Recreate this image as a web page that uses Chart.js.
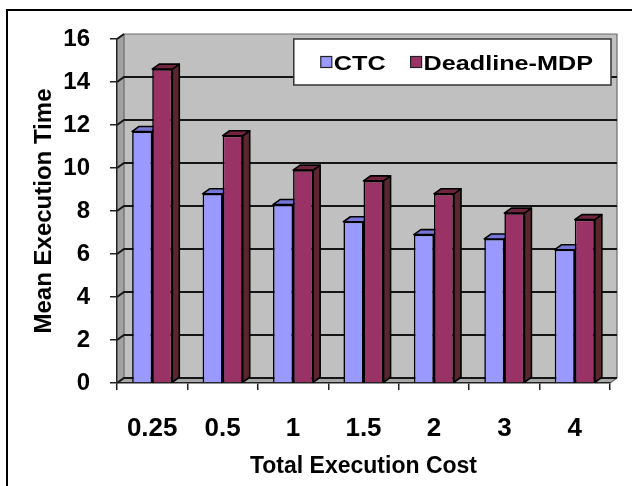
<!DOCTYPE html>
<html>
<head>
<meta charset="utf-8">
<script src="https://cdn.jsdelivr.net/npm/chart.js@4.4.1/dist/chart.umd.min.js"></script>
<style>
  html, body { margin: 0; padding: 0; background: #ffffff; }
  canvas { display: block; }
</style>
</head>
<body>
<canvas id="chart" width="632" height="486"></canvas>
<script>
// Total execution cost (x categories)
const categories = ['0.25', '0.5', '1', '1.5', '2', '3', '4'];
// Mean execution time per scheduler
const ctcTimes = [11.7, 8.8, 8.3, 7.5, 6.9, 6.7, 6.2];
const mdpTimes = [14.6, 11.5, 9.9, 9.4, 8.8, 7.9, 7.6];
// Value axis
const yMin = 0, yMax = 16, yStep = 2;

const FONT = "'Liberation Sans', Arial, sans-serif";
const DX = 7, DY = -5;           // depth offset of the 3D box
const faceColors = [
  { top: '#7676d6', side: '#5f5fb0' },
  { top: '#70243e', side: '#5a2630' }
];

// Back wall, side wall, floor and gridlines
const boxPlugin = {
  id: 'box3d',
  beforeDraw(chart) {
    const { ctx, chartArea: a, scales: { y } } = chart;
    const yTop = y.getPixelForValue(yMax);
    const yBot = y.getPixelForValue(yMin);
    ctx.save();
    ctx.fillStyle = '#ffffff';
    ctx.fillRect(0, 0, chart.width, chart.height);

    // outer frame
    ctx.strokeStyle = '#000';
    ctx.lineWidth = 2;
    ctx.beginPath();
    ctx.moveTo(7, chart.height + 2);
    ctx.lineTo(7, 10);
    ctx.lineTo(chart.width + 2, 10);
    ctx.stroke();

    // back wall
    ctx.fillStyle = '#c0c0c0';
    ctx.fillRect(a.left + DX, yTop + DY, a.right - a.left, yBot - yTop);
    // left side wall
    ctx.fillStyle = '#a2a2a2';
    ctx.beginPath();
    ctx.moveTo(a.left, yTop);
    ctx.lineTo(a.left + DX, yTop + DY);
    ctx.lineTo(a.left + DX, yBot + DY);
    ctx.lineTo(a.left, yBot);
    ctx.closePath();
    ctx.fill();
    // floor
    ctx.fillStyle = '#a8a8a8';
    ctx.beginPath();
    ctx.moveTo(a.left, yBot);
    ctx.lineTo(a.left + DX, yBot + DY);
    ctx.lineTo(a.right + DX, yBot + DY);
    ctx.lineTo(a.right, yBot);
    ctx.closePath();
    ctx.fill();

    // wall outline
    ctx.strokeStyle = '#6a6a6a';
    ctx.lineWidth = 1.2;
    ctx.beginPath();
    ctx.moveTo(a.left + DX, yBot + DY);
    ctx.lineTo(a.left + DX, yTop + DY);
    ctx.lineTo(a.right + DX, yTop + DY);
    ctx.lineTo(a.right + DX, yBot + DY);
    ctx.lineTo(a.right, yBot);
    ctx.stroke();

    // gridlines on the side wall and back wall
    ctx.strokeStyle = '#151515';
    ctx.lineWidth = 2;
    for (let v = yMin; v < yMax; v += yStep) {
      const py = y.getPixelForValue(v);
      ctx.beginPath();
      ctx.moveTo(a.left, py);
      ctx.lineTo(a.left + DX, py + DY);
      ctx.lineTo(a.right + DX, py + DY);
      ctx.stroke();
    }
    ctx.beginPath();
    ctx.moveTo(a.left, yTop);
    ctx.lineTo(a.left + DX, yTop + DY);
    ctx.stroke();
    ctx.restore();
  },
  // top and side faces of the columns, drawn under the front faces
  beforeDatasetsDraw(chart) {
    const { ctx } = chart;
    ctx.save();
    ctx.lineWidth = 1.6;
    ctx.strokeStyle = '#000';
    ctx.lineJoin = 'round';
    chart.data.datasets.forEach((ds, di) => {
      const meta = chart.getDatasetMeta(di);
      meta.data.forEach(bar => {
        const { x, y, base, width } = bar.getProps(['x', 'y', 'base', 'width'], true);
        const x1 = x - width / 2, x2 = x + width / 2;
        // side
        ctx.fillStyle = faceColors[di].side;
        ctx.beginPath();
        ctx.moveTo(x2, y);
        ctx.lineTo(x2 + DX, y + DY);
        ctx.lineTo(x2 + DX, base + DY);
        ctx.lineTo(x2, base);
        ctx.closePath();
        ctx.fill();
        ctx.stroke();
        // top
        ctx.fillStyle = faceColors[di].top;
        ctx.beginPath();
        ctx.moveTo(x1, y);
        ctx.lineTo(x1 + DX, y + DY);
        ctx.lineTo(x2 + DX, y + DY);
        ctx.lineTo(x2, y);
        ctx.closePath();
        ctx.fill();
        ctx.stroke();
      });
    });
    ctx.restore();
  },
  // boxed legend in the upper right of the plot
  afterDraw(chart) {
    const { ctx, chartArea: a } = chart;
    const sx = 1.2, fs = 21, mark = 11;
    ctx.save();
    ctx.font = `bold ${fs}px ${FONT}`;
    const items = chart.data.datasets.map(ds => ({
      label: ds.label, color: ds.backgroundColor,
      w: ctx.measureText(ds.label).width * sx
    }));
    const padL = 27, padR = 18, gapMark = 2, gapItem = 25;
    let total = padL + padR;
    items.forEach((it, i) => { total += mark + gapMark + it.w + (i ? gapItem : 0); });
    const right = a.right + 1, top = a.top, h = 46;
    const left = right - total;
    ctx.fillStyle = '#ffffff';
    ctx.fillRect(left, top, total, h);
    ctx.strokeStyle = '#333';
    ctx.lineWidth = 1.5;
    ctx.strokeRect(left, top, total, h);
    const cy = top + h / 2;
    let x = left + padL;
    items.forEach((it, i) => {
      if (i) x += gapItem;
      ctx.fillStyle = it.color;
      ctx.fillRect(x, cy - mark / 2, mark, mark);
      ctx.lineWidth = 1.2;
      ctx.strokeStyle = '#222';
      ctx.strokeRect(x, cy - mark / 2, mark, mark);
      x += mark + gapMark;
      ctx.save();
      ctx.translate(x, cy + 7.5);
      ctx.scale(sx, 1);
      ctx.fillStyle = '#000';
      ctx.textBaseline = 'alphabetic';
      ctx.fillText(it.label, 0, 0);
      ctx.restore();
      x += it.w;
    });
    ctx.restore();
  }
};

new Chart(document.getElementById('chart'), {
  type: 'bar',
  data: {
    labels: categories,
    datasets: [
      { label: 'CTC', data: ctcTimes, backgroundColor: '#9999ff', borderColor: '#000', borderWidth: 1.6 },
      { label: 'Deadline-MDP', data: mdpTimes, backgroundColor: '#993366', borderColor: '#000', borderWidth: 1.6 }
    ]
  },
  options: {
    responsive: false,
    animation: false,
    devicePixelRatio: 1,
    layout: { padding: { left: 0, top: 39, right: 22, bottom: 0 } },
    datasets: { bar: { categoryPercentage: 0.57, barPercentage: 1.0 } },
    plugins: { legend: { display: false }, tooltip: { enabled: false } },
    scales: {
      x: {
        grid: { offset: true, drawOnChartArea: false, drawTicks: true, tickLength: 7, color: '#222', lineWidth: 1.5 },
        border: { display: true, color: '#222', width: 1.5 },
        ticks: { color: '#000', padding: 23, font: { family: FONT, weight: 'bold', size: 26 } },
        title: { display: true, text: 'Total Execution Cost', color: '#000', padding: { top: 0, bottom: 6 },
                 font: { family: FONT, weight: 'bold', size: 23, lineHeight: 1.2 } },
        afterFit(s) { s.height = 103; }
      },
      y: {
        min: yMin, max: yMax,
        grid: { drawOnChartArea: false, drawTicks: true, tickLength: 7, color: '#222', lineWidth: 1.5 },
        border: { display: true, color: '#222', width: 1.5 },
        ticks: { stepSize: yStep, color: '#000', padding: 20, font: { family: FONT, weight: 'bold', size: 24 } },
        title: { display: true, text: 'Mean Execution Time', color: '#000', padding: { top: 30, bottom: 0 },
                 font: { family: FONT, weight: 'bold', size: 24, lineHeight: 1.2 } },
        afterFit(s) { s.width = 117; }
      }
    }
  },
  plugins: [boxPlugin]
});
</script>
</body>
</html>
